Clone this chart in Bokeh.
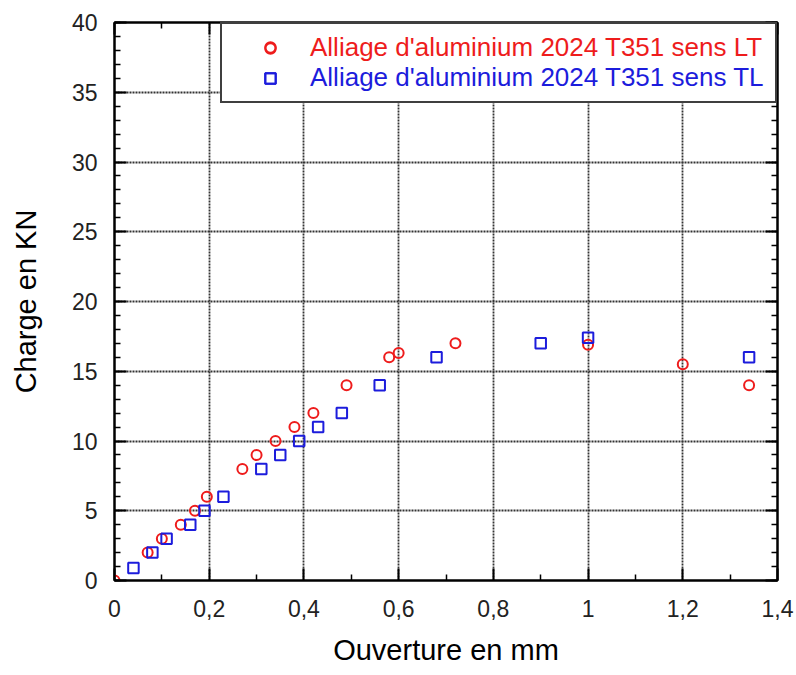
from bokeh.plotting import figure
from bokeh.models import (LinearAxis, FixedTicker, SingleIntervalTicker, Legend,
                          LegendItem, Range1d)
from bokeh.embed import file_html
from bokeh.resources import INLINE

# ---- data ----
lt_x = [0, 0.07, 0.10, 0.14, 0.17, 0.195, 0.27, 0.30, 0.34, 0.38, 0.42, 0.49,
        0.58, 0.60, 0.72, 1.00, 1.20, 1.34]
lt_y = [0, 2, 3, 4, 5, 6, 8, 9, 10, 11, 12, 14, 16, 16.3, 17, 16.9, 15.5, 14]

tl_x = [0.04, 0.08, 0.11, 0.16, 0.19, 0.23, 0.31, 0.35, 0.39, 0.43, 0.48, 0.56,
        0.68, 0.90, 1.00, 1.34]
tl_y = [0.9, 2, 3, 4, 5, 6, 8, 9, 10, 11, 12, 14, 16, 17, 17.4, 16]

label_lt = "Alliage d'aluminium 2024 T351 sens LT"
label_tl = "Alliage d'aluminium 2024 T351 sens TL"

x_ticks = [0, 0.2, 0.4, 0.6, 0.8, 1.0, 1.2, 1.4]
x_tick_labels = ["0", "0,2", "0,4", "0,6", "0,8", "1", "1,2", "1,4"]
x_minor_ticks = [0.1, 0.3, 0.5, 0.7, 0.9, 1.1, 1.3]

x_title = "Ouverture en mm"
y_title = "Charge en KN"

RED = "#ee1c1c"
BLUE = "#1c1cdc"
FONT = "Liberation Sans"

p = figure(width=794, height=675, x_range=Range1d(0, 1.4), y_range=Range1d(0, 40),
           output_backend="svg", toolbar_location=None,
           min_border_left=114, min_border_right=17,
           min_border_top=22, min_border_bottom=95)
p.background_fill_color = "white"
p.border_fill_color = "white"
p.outline_line_color = "black"
p.outline_line_width = 2

xticker = FixedTicker(ticks=x_ticks, minor_ticks=x_minor_ticks)
yticker = SingleIntervalTicker(interval=5, num_minor_ticks=5)


def style_axis(ax):
    ax.axis_line_width = 2
    ax.axis_line_color = "black"
    ax.major_tick_line_width = 2
    ax.minor_tick_line_width = 1.5
    ax.major_tick_in = 12
    ax.major_tick_out = 0
    ax.minor_tick_in = 6
    ax.minor_tick_out = 0


xa = p.xaxis[0]
xa.ticker = xticker
xa.major_label_overrides = dict(zip(x_ticks, x_tick_labels))
xa.axis_label = x_title
ya = p.yaxis[0]
ya.ticker = yticker
ya.axis_label = y_title
for ax in (xa, ya):
    style_axis(ax)
    ax.major_label_text_font = FONT
    ax.major_label_text_font_size = "23px"
    ax.major_label_text_color = "#222222"
    ax.axis_label_text_font = FONT
    ax.axis_label_text_font_size = "29px"
    ax.axis_label_text_font_style = "normal"
    ax.axis_label_text_color = "black"
xa.major_label_standoff = 19
xa.axis_label_standoff = 14
ya.major_label_standoff = 17
ya.axis_label_standoff = 27

# frame ticks on the top and right sides (no labels)
top = LinearAxis(ticker=xticker, major_label_text_color=None,
                 major_label_text_font_size="0px", major_label_standoff=0)
right = LinearAxis(ticker=yticker, major_label_text_color=None,
                   major_label_text_font_size="0px", major_label_standoff=0)
style_axis(top)
style_axis(right)
p.add_layout(top, "above")
p.add_layout(right, "right")

p.xgrid.ticker = xticker
p.ygrid.ticker = yticker
p.grid.grid_line_color = "#333333"
p.grid.grid_line_dash = "2 1"
p.grid.grid_line_width = 1.8

r_lt = p.scatter(lt_x, lt_y, marker="circle", size=10, fill_color=None,
                 line_color=RED, line_width=2)
r_tl = p.scatter(tl_x, tl_y, marker="square", size=10.5, fill_color=None,
                 line_color=BLUE, line_width=2)


def make_legend(items, color, framed):
    lg = Legend(items=items, location="top_right", margin=0, padding=8,
                spacing=0, glyph_width=80, glyph_height=26, label_height=30,
                label_width=457, label_standoff=0,
                label_text_font=FONT, label_text_font_size="26px",
                label_text_color=color, border_line_color="black",
                border_line_width=2)
    if framed:
        lg.background_fill_color = "white"
        lg.background_fill_alpha = 1
    else:
        lg.background_fill_alpha = 0
    return lg


leg_a = make_legend([LegendItem(label=label_lt, renderers=[r_lt]),
                     LegendItem(label=" ", renderers=[r_tl])], RED, True)
leg_b = make_legend([LegendItem(label=" ", renderers=[r_lt]),
                     LegendItem(label=label_tl, renderers=[r_tl])], BLUE, False)
p.add_layout(leg_a, "center")
p.add_layout(leg_b, "center")

open("out.html", "w").write(file_html(p, INLINE))
